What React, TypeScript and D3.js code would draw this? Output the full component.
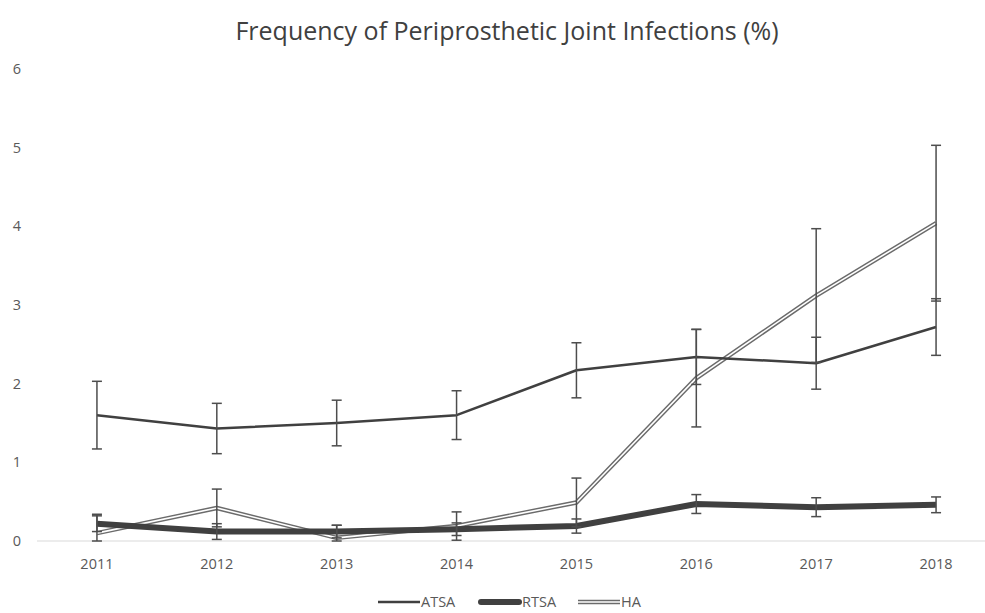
import React from "react";
import * as d3 from "d3";

const years = ["2011", "2012", "2013", "2014", "2015", "2016", "2017", "2018"];
const atsa = [1.6, 1.43, 1.5, 1.6, 2.17, 2.34, 2.26, 2.72];
const atsaErr = [0.43, 0.32, 0.29, 0.31, 0.35, 0.35, 0.33, 0.36];
const rtsa = [0.22, 0.12, 0.12, 0.15, 0.19, 0.47, 0.43, 0.46];
const rtsaErr = [0.1, 0.1, 0.08, 0.08, 0.09, 0.12, 0.12, 0.1];
const ha = [0.1, 0.42, 0.04, 0.19, 0.49, 2.07, 3.12, 4.04];
const haErr = [0.24, 0.24, 0.16, 0.18, 0.31, 0.62, 0.85, 0.99];
const yTicks = [0, 1, 2, 3, 4, 5, 6];
const title = "Frequency of Periprosthetic Joint Infections (%)";
const legendNames = ["ATSA", "RTSA", "HA"];

const W = 985;
const H = 613;
const FONT = "'Open Sans', 'Noto Sans', sans-serif";

export default function App() {
  const x = d3.scaleBand<string>().domain(years).range([37, 996]);
  const cx = (i: number) => (x(years[i]) as number) + x.bandwidth() / 2;
  const y = d3.scaleLinear().domain([0, 6]).range([541, 69]);
  const line = d3
    .line<number>()
    .x((_, i) => cx(i))
    .y((d) => y(d));

  const errBars = (vals: number[], errs: number[], key: string) =>
    vals.map((v, i) => {
      const xc = cx(i);
      const y1 = y(Math.max(0, v - errs[i]));
      const y2 = y(v + errs[i]);
      return (
        <g key={key + i} stroke="#4d4d4d" strokeWidth={1.5}>
          <line x1={xc} x2={xc} y1={y1} y2={y2} />
          <line x1={xc - 5} x2={xc + 5} y1={y1} y2={y1} />
          <line x1={xc - 5} x2={xc + 5} y1={y2} y2={y2} />
        </g>
      );
    });

  return (
    <svg
      width={W}
      height={H}
      style={{ position: "absolute", left: 0, top: 0, background: "#fff" }}
      fontFamily={FONT}
    >
      <rect width={W} height={H} fill="#fff" />
      <text x={507} y={40} textAnchor="middle" fontSize={25} fill="#404040">
        {title}
      </text>
      {yTicks.map((t) => (
        <text
          key={t}
          x={17}
          y={y(t)}
          dy="0.35em"
          textAnchor="middle"
          fontSize={14.5}
          fill="#595959"
        >
          {t}
        </text>
      ))}
      <line x1={37} x2={W} y1={y(0)} y2={y(0)} stroke="#d9d9d9" strokeWidth={1.2} />
      {years.map((yr, i) => (
        <text
          key={yr}
          x={cx(i)}
          y={564}
          dy="0.35em"
          textAnchor="middle"
          fontSize={14.5}
          fill="#595959"
        >
          {yr}
        </text>
      ))}

      {/* HA double line */}
      <path d={line(ha) || ""} fill="none" stroke="#6b6b6b" strokeWidth={4.5} strokeLinejoin="round" />
      <path d={line(ha) || ""} fill="none" stroke="#ffffff" strokeWidth={1.6} strokeLinejoin="round" />
      {/* ATSA */}
      <path d={line(atsa) || ""} fill="none" stroke="#404040" strokeWidth={2.5} strokeLinejoin="round" />
      {/* RTSA */}
      <path d={line(rtsa) || ""} fill="none" stroke="#404040" strokeWidth={6} strokeLinejoin="round" />

      {errBars(atsa, atsaErr, "a")}
      {errBars(rtsa, rtsaErr, "r")}
      {errBars(ha, haErr, "h")}

      {/* legend */}
      <g>
        <line x1={378} x2={420} y1={602} y2={602} stroke="#404040" strokeWidth={2.5} />
        <text x={421} y={602} dy="0.35em" fontSize={14.5} fill="#595959">
          {legendNames[0]}
        </text>
        <line x1={481} x2={519} y1={602} y2={602} stroke="#404040" strokeWidth={6} strokeLinecap="round" />
        <text x={522} y={602} dy="0.35em" fontSize={14.5} fill="#595959">
          {legendNames[1]}
        </text>
        <line x1={578} x2={620} y1={602} y2={602} stroke="#6b6b6b" strokeWidth={4.5} />
        <line x1={578} x2={620} y1={602} y2={602} stroke="#fff" strokeWidth={1.6} />
        <text x={621} y={602} dy="0.35em" fontSize={14.5} fill="#595959">
          {legendNames[2]}
        </text>
      </g>
    </svg>
  );
}
